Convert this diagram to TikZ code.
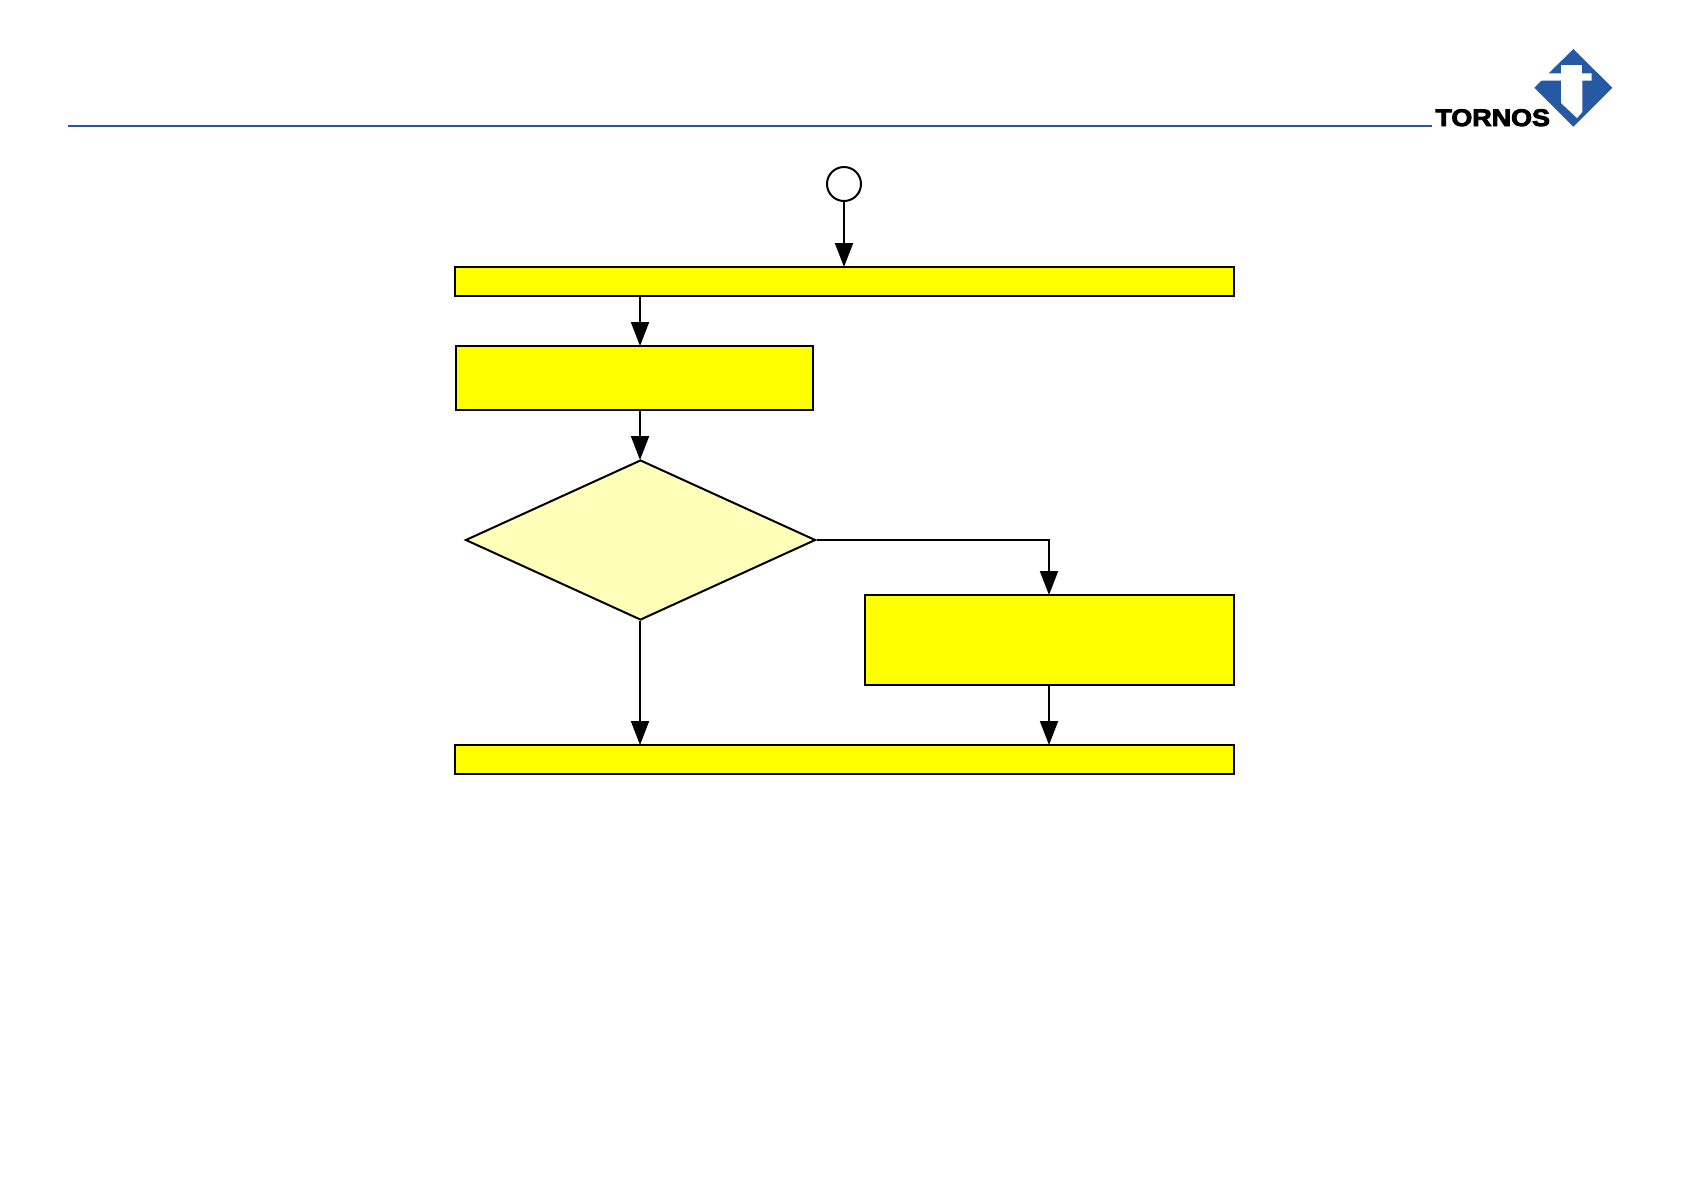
\documentclass[tikz,border=0pt]{standalone}
\usepackage{fontspec}
\newfontfamily\logofont[FakeBold=3.6]{Liberation Sans Bold}
\usetikzlibrary{arrows.meta,shapes.geometric}
\definecolor{logoblue}{RGB}{38,89,163}
\definecolor{boxfill}{RGB}{255,255,0}
\definecolor{palefill}{RGB}{255,255,185}
\begin{document}
\begin{tikzpicture}[
  x=0.5pt, y=-0.5pt,
  stepbox/.style={draw=black, fill=boxfill, line width=1pt, rectangle, inner sep=0pt, anchor=north west},
  choice/.style={draw=black, fill=palefill, line width=1pt, diamond, inner sep=0pt},
  startmark/.style={draw=black, fill=white, line width=1pt, circle, inner sep=0pt, minimum size=17pt},
  flow/.style={draw=black, line width=1pt, -{Triangle[length=12pt, width=9pt]}, shorten >=-0.5pt}]
\useasboundingbox (0,0) rectangle (1684,1190);
% header rule
\coordinate (rulea) at (68,126);
\coordinate (ruleb) at (1432,126);
\draw[logoblue, line width=0.8pt] (rulea) -- (ruleb);
% logo
\fill[logoblue] (1573.3,49) -- (1612.3,87.7) -- (1573.3,126.7) -- (1534.3,87.7) -- cycle;
\fill[white] (1525,73.3) -- (1591.7,73.3) -- (1591.7,80.7) -- (1582.3,80.7) -- (1582.3,112)
  -- (1577,118) -- (1561,103) -- (1561,80.7) -- (1525,80.7) -- cycle;
\fill[white] (1561,65) rectangle (1582.3,75);
\node[inner sep=0pt, anchor=base west, xscale=1.12] (logotext) at (1435,126)
  {\logofont\fontsize{12pt}{12pt}\selectfont TORNOS};
% boxes
\node[startmark] (start) at (844,184) {};
\node[stepbox, minimum width=389.5pt, minimum height=14.5pt] (entry) at (454,266) {};
\node[stepbox, minimum width=178.5pt, minimum height=32pt] (prepare) at (455,345) {};
\node[choice, minimum width=175pt, minimum height=80pt, aspect=2.19] (check) at (640.5,540) {};
\node[stepbox, minimum width=184.5pt, minimum height=45pt] (adjust) at (863.5,594) {};
\node[stepbox, minimum width=389.5pt, minimum height=14.5pt] (finish) at (454,744) {};
\coordinate (spine) at (640,540);
% connectors
\draw[flow] (start) -- (start |- entry.north);
\draw[flow] (spine |- entry.south) -- (spine |- prepare.north);
\draw[flow] (spine |- prepare.south) -- (spine |- check.north);
\draw[flow] (spine |- check.south) -- (spine |- finish.north);
\draw[flow] (check.east) -| (adjust.north);
\draw[flow] (adjust.south) -- (adjust.south |- finish.north);
\end{tikzpicture}
\end{document}
